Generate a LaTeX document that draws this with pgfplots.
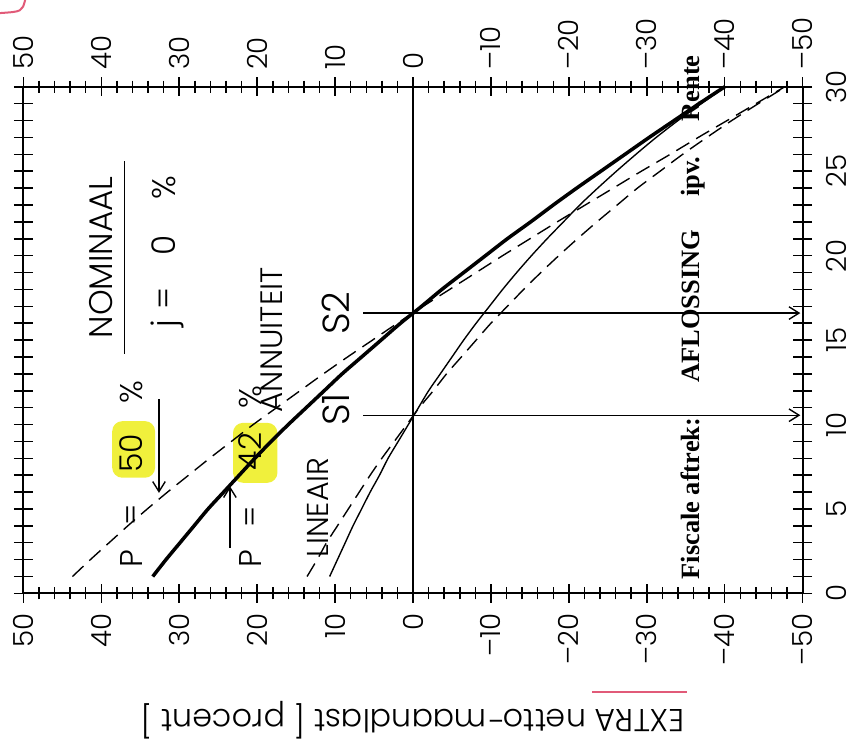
\documentclass[border=0pt]{standalone}
\usepackage{fontspec}
\IfFontExistsTF{Poppins Light}{\setmainfont{Poppins Light}}{\setmainfont{Poppins}}
\newfontfamily\serifb{Liberation Serif}
\usepackage{graphicx}
\usepackage{pgfplots}
\usepackage{pgfplotstable}
\pgfplotsset{compat=1.18}
\usetikzlibrary{arrows.meta}
\definecolor{hl}{RGB}{240,240,60}
\definecolor{redmark}{RGB}{225,90,120}

\pgfplotstableread{
t ann42 ann50 lin42 lin50
1 33.4 43.7 10.7 13.6
2 31.7 41.4 9.7 12.3
3 29.9 39.0 8.7 11.1
4 28.1 36.6 7.7 9.7
5 26.3 34.1 6.6 8.3
6 24.3 31.5 5.5 6.9
7 22.3 28.8 4.3 5.5
8 20.3 26.1 3.2 4.0
9 18.2 23.3 1.9 2.4
10 16.0 20.5 0.6 0.8
11 13.7 17.5 -0.7 -0.8
12 11.4 14.5 -2.0 -2.6
13 9.1 11.5 -3.5 -4.3
14 6.6 8.4 -5.0 -6.2
15 4.1 5.2 -6.5 -8.1
16 1.6 2.0 -8.1 -10.0
17 -1.1 -1.3 -9.8 -12.1
18 -3.7 -4.7 -11.5 -14.2
19 -6.5 -8.1 -13.3 -16.4
20 -9.3 -11.5 -15.2 -18.7
21 -12.1 -15.0 -17.2 -21.1
22 -15.1 -18.5 -19.3 -23.6
23 -18.0 -22.1 -21.4 -26.2
24 -21.0 -25.7 -23.7 -28.8
25 -24.1 -29.3 -26.1 -31.7
26 -27.2 -33.0 -28.6 -34.6
27 -30.3 -36.6 -31.2 -37.7
28 -33.5 -40.3 -34.0 -40.9
29 -36.7 -44.0 -37.0 -44.3
30 -40.0 -47.7 -40.1 -47.8
}\data

\newcommand{\txt}{\fontsize{13}{15}\selectfont}
\newcommand{\ptxt}{\fontsize{12.5}{14}\selectfont}

\begin{document}
\rotatebox{90}{%
\begin{tikzpicture}
\begin{axis}[
  name=ax,
  scale only axis,
  width=201.4pt, height=309.8pt,
  xmin=0, xmax=30, ymin=-50, ymax=50,
  clip=false,
  axis line style={line width=0.8pt},
  xtick={0,...,30},
  xticklabels={0,,,,,5,,,,,10,,,,,15,,,,,20,,,,,25,,,,,30},
  ytick={-50,-40,...,50},
  yticklabels={–50,–40,–30,–20,–10,0,10,20,30,40,50},
  minor y tick num=4,
  tick align=center,
  major tick length=7.5pt,
  minor tick length=4.8pt,
  every tick/.style={black, line width=0.6pt},
  tick label style={font=\fontsize{11}{13}\selectfont, inner sep=0pt},
  xticklabel style={yshift=-5.5pt},
  yticklabel style={xshift=-4pt},
  every axis y label/.style={at={(axis description cs:-0.25,0.5)}, rotate=90, anchor=center, font=\fontsize{12.6}{14}\selectfont},
  ylabel={EXTRA netto-maandlast [ procent ]},
]
\coordinate (sw) at (rel axis cs:0,0);
\coordinate (ne) at (rel axis cs:1,1);
% highlights
\fill[hl, rounded corners=4pt] (axis cs:6.85,33.1) rectangle (axis cs:10.2,38.6);
\fill[hl, rounded corners=4pt] (axis cs:6.55,17.4) rectangle (axis cs:10.1,23.1);
% zero line
\draw[line width=0.55pt] (axis cs:0,0) -- (axis cs:30,0);
% S lines
\draw[line width=0.55pt, -{Straight Barb[length=4pt,width=5pt]}] (axis cs:10.55,6.4) -- (axis cs:10.55,-49.7);
\draw[line width=0.55pt, -{Straight Barb[length=4pt,width=5pt]}] (axis cs:16.6,6.4) -- (axis cs:16.6,-49.7);
% curves
\addplot[black, line width=1.4pt, line join=round, smooth] table[x=t, y=ann42] {\data};
\addplot[black, line width=0.55pt, dash pattern=on 6pt off 3.2pt, smooth] table[x=t, y=ann50] {\data};
\addplot[black, line width=0.55pt, smooth] table[x=t, y=lin42] {\data};
\addplot[black, line width=0.55pt, dash pattern=on 6pt off 3.2pt, smooth] table[x=t, y=lin50] {\data};
% arrows
\draw[line width=0.55pt, -{Straight Barb[length=4pt,width=5pt]}] (axis cs:11.5,32.6) -- (axis cs:5.95,32.6);
\draw[line width=0.55pt, -{Straight Barb[length=4pt,width=5pt]}] (axis cs:2.7,23.5) -- (axis cs:6.35,23.5);
% texts
\node[inner sep=0pt, anchor=base, font=\txt] at (axis cs:19.9,38.6) {NOMINAAL};
\draw[line width=0.6pt] (axis cs:14.2,37.0) -- (axis cs:25.6,37.0);
\node[inner sep=0pt, anchor=base, font=\txt] at (axis cs:15.95,30.5) {j};
\node[inner sep=0pt, anchor=base, font=\txt] at (axis cs:17.45,30.5) {=};
\node[inner sep=0pt, anchor=base, font=\txt] at (axis cs:20.6,30.5) {0};
\node[inner sep=0pt, anchor=base, font=\txt] at (axis cs:24.0,30.5) {\%};
\node[inner sep=0pt, anchor=base, font=\ptxt] at (axis cs:2.05,34.7) {P};
\node[inner sep=0pt, anchor=base, font=\ptxt] at (axis cs:4.65,34.7) {=};
\node[inner sep=0pt, anchor=base, font=\ptxt] at (axis cs:8.3,34.7) {50};
\node[inner sep=0pt, anchor=base, font=\ptxt] at (axis cs:11.9,34.7) {\%};
\node[inner sep=0pt, anchor=base, font=\ptxt] at (axis cs:2.05,19.4) {P};
\node[inner sep=0pt, anchor=base, font=\ptxt] at (axis cs:4.55,19.4) {=};
\node[inner sep=0pt, anchor=base, font=\ptxt] at (axis cs:8.4,19.4) {42};
\node[inner sep=0pt, anchor=base, font=\ptxt] at (axis cs:11.6,19.4) {\%};
\node[inner sep=0pt, anchor=base west, font=\fontsize{12.3}{14}\selectfont] at (axis cs:10.7,16.7) {ANNUITEIT};
\node[inner sep=0pt, anchor=base west, font=\fontsize{12}{14}\selectfont] at (axis cs:2.1,10.9) {LINEAIR};
\node[inner sep=0pt, anchor=base, font=\fontsize{15}{17}\selectfont] at (axis cs:10.9,8.1) {S1};
\node[inner sep=0pt, anchor=base, font=\fontsize{15}{17}\selectfont] at (axis cs:16.6,8.1) {S2};
\node[inner sep=0pt, anchor=base west, font=\serifb\bfseries\fontsize{10.5}{12}\selectfont] at (axis cs:0.8,-36.8) {Fiscale aftrek:\hspace{1em} AFLOSSING\hspace{1em} ipv.\hspace{1em} Rente};
% red marks
\draw[redmark, line width=0.9pt] (rel axis cs:-0.195,0.149) -- (rel axis cs:-0.195,0.27);
\draw[redmark, line width=0.8pt] ([shift={(29.3pt,9.26pt)}]ne) .. controls ([shift={(29.9pt,0.5pt)}]ne) .. ([shift={(34.5pt,-0.7pt)}]ne);
\end{axis}
\begin{axis}[
  scale only axis,
  width=201.4pt, height=309.8pt,
  xmin=0, xmax=30, ymin=-50, ymax=50,
  hide x axis,
  axis y line*=right,
  y axis line style={draw=none},
  ytick={-50,-40,...,50},
  yticklabels={–50,–40,–30,–20,–10,0,10,20,30,40,50},
  minor tick num=0,
  major tick length=0pt,
  every tick/.style={draw=none},
  tick label style={font=\fontsize{11}{13}\selectfont, inner sep=0pt},
  yticklabel style={xshift=6.5pt},
]
\end{axis}
\pgfresetboundingbox
\path[use as bounding box] ([shift={(-59.1pt,-22.4pt)}]sw) rectangle ([shift={(34.5pt,9.3pt)}]ne);
\end{tikzpicture}}
\end{document}
